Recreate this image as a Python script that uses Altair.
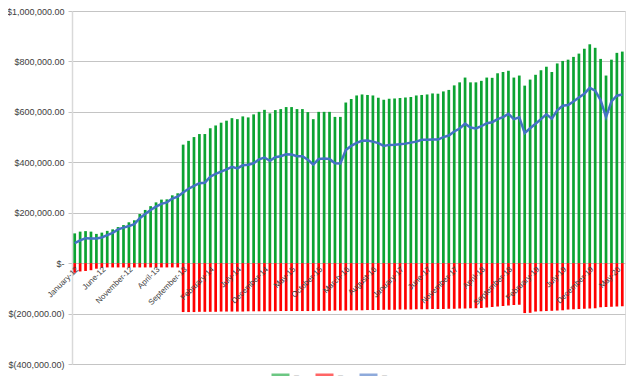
import altair as alt
import pandas as pd

month_names = ["January", "February", "March", "April", "May", "June", "July",
               "August", "September", "October", "November", "December"]
months = [f"{month_names[i % 12]}-{12 + i // 12}" for i in range(102)]
label_months = months[::5]

# values in thousands of dollars
green_k = [118, 125, 127, 125, 116, 121, 128, 134, 143, 151, 162, 170, 195, 211, 226, 241, 252, 253, 269, 277,
           470,
           485, 500, 512, 512, 535, 546, 557, 565, 575, 571, 582, 578, 590, 600, 608, 594, 607, 611, 619, 619, 611, 611,
           599, 571, 600, 600, 600, 580, 580, 637, 651, 665, 669, 667, 665, 656, 648, 652, 653, 655, 657, 659, 665,
           667, 669, 673, 672, 681, 687, 705, 717, 736, 717, 717, 723, 736, 735, 753, 758, 763, 736, 744, 704,
           728, 747, 765, 779, 758, 792, 802, 807, 818, 831, 850, 868, 854, 810, 744, 807, 834, 839]
red_k = [-38, -33, -31, -28, -22, -18, -17, -17, -17, -17, -17, -17, -17, -17, -17, -17, -17, -17, -17, -17,
         -194, -194, -194, -193, -193, -193, -193, -192, -192, -192, -192, -192, -191, -191, -191, -191, -191, -191,
         -190, -190, -190, -190, -190, -190, -190, -189,
         -189, -189, -188, -188, -188, -187, -187, -187, -186, -186, -186, -185, -185, -185, -184, -184, -184, -183,
         -183, -183, -182, -182, -182, -181, -181, -180, -180, -179, -179, -178,
         -176, -174, -172, -170, -168, -166, -165,
         -198, -197,
         -192, -191, -190, -189, -188, -187,
         -184, -183, -182, -181, -180, -179,
         -175, -174, -173, -172, -171]
blue_k = [79, 90, 99, 98, 98, 102, 111, 120, 134, 141, 147, 155, 178, 195, 211, 224, 235, 241, 256, 264, 280, 295,
          306, 317, 319, 343, 354, 363, 372, 382, 376, 388, 390, 396, 412, 419, 406, 420, 424, 432, 431, 424, 424,
          410, 391, 413, 415, 413, 396, 395, 449, 465, 477, 485, 486, 482, 476, 465, 469, 470, 472, 474, 478, 482,
          489, 489, 490, 490, 500, 506, 522, 534, 553, 538, 534, 543, 555, 559, 571, 579, 592, 571, 578, 516,
          535, 553, 571, 590, 573, 606, 624, 627, 641, 657, 672, 695, 684, 647, 579, 641, 664, 669]

series_names = ["Income", "Expenses", "Net"]
series_colors = ["#0ca332", "#ff0000", "#4472c4"]
y_ticks = [-400000, -200000, 0, 200000, 400000, 600000, 800000, 1000000]

df = pd.DataFrame({
    "month": months,
    "income": [v * 1000 for v in green_k],
    "expenses": [v * 1000 for v in red_k],
    "net": [v * 1000 for v in blue_k],
    "series": "Net",
})

label_color = "#404040"
grid_color = "#c4c4c4"

x_enc = alt.X(
    "month:N", sort=months,
    scale=alt.Scale(paddingInner=0.5, paddingOuter=0.25),
    axis=alt.Axis(values=label_months, labelAngle=315, offset=-101, domain=False, ticks=False,
                  grid=False, title=None, labelFontSize=8, labelColor=label_color, labelPadding=2,
                  labelAlign="right", labelBaseline="top", labelOverlap=False, zindex=1),
)
y_scale = alt.Scale(domain=[-400000, 1000000], nice=False, zero=True)
y_axis = alt.Axis(
    values=y_ticks, title=None, grid=True, gridColor=grid_color, gridWidth=1,
    domainColor="#d9d9d9", domainWidth=1.5, tickColor=grid_color, tickSize=4, labelPadding=4,
    labelFontSize=9, labelColor=label_color,
    labelExpr="datum.value == 0 ? '$-' : (datum.value < 0 ? '$(' + format(-datum.value, ',.2f') + ')' : '$' + format(datum.value, ',.2f'))",
)

base = alt.Chart(df)

green = base.mark_bar(color=series_colors[0]).encode(
    x=x_enc, y=alt.Y("income:Q", scale=y_scale, axis=y_axis)
)
red = base.mark_bar(color=series_colors[1]).encode(
    x=x_enc, y=alt.Y("expenses:Q", scale=y_scale)
)
line = base.mark_line(strokeWidth=2.5).encode(
    x=x_enc,
    y=alt.Y("net:Q", scale=y_scale),
    color=alt.Color("series:N", scale=alt.Scale(domain=series_names, range=series_colors),
                    legend=alt.Legend(orient="none", legendX=198, legendY=353, direction="horizontal",
                                      title=None, symbolType="stroke", symbolSize=324,
                                      symbolStrokeWidth=2.5, symbolOpacity=0.6,
                                      labelExpr="'–'", labelColor="#c8c8c8", labelFontSize=9,
                                      labelOffset=3, columnPadding=10, padding=0)),
)

chart = alt.layer(green, red, line).properties(
    width=553, height=353,
    autosize=alt.AutoSizeParams(type="none"),
    padding={"left": 64, "top": 3, "right": 7, "bottom": 22},
).configure_view(stroke=None).configure(font="Liberation Sans")

chart.save("out.html", embed_options={"renderer": "svg", "actions": False})
